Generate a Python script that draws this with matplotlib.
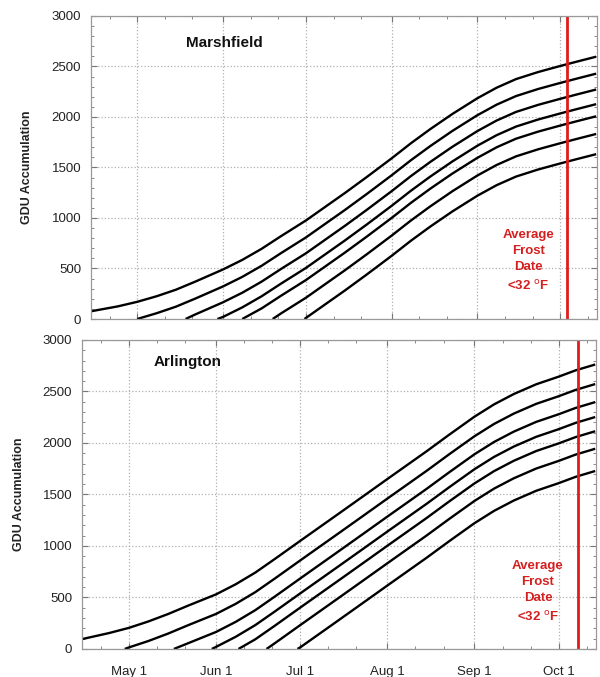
import numpy as np
import matplotlib.pyplot as plt
from matplotlib.ticker import MultipleLocator, FixedLocator

plt.rcParams['font.family'] = ['Liberation Sans', 'DejaVu Sans']

# jours de l'annee (day-of-year) ou les courbes ont ete lues
days = [104, 114, 121, 128, 135, 142, 152, 159, 166, 173, 182, 189, 196,
        204, 213, 220, 227, 235, 244, 251, 258, 266, 274, 280, 287]

month_days = [121, 152, 182, 213, 244, 274]
month_labels = ["May 1", "Jun 1", "Jul 1", "Aug 1", "Sep 1", "Oct 1"]
minor_days = [111, 131, 141, 162, 172, 192, 202, 223, 233, 254, 264, 284]

# Marshfield : date de depart (GDU = 0) puis valeurs sur la fin de `days`
marsh_start = [None, 121, 138.5, 150, 159, 170, 181.5]
marsh_gdu = [
    [75, 125, 170, 225, 290, 370, 490, 585, 695, 820, 975, 1110, 1245, 1405,
     1590, 1740, 1880, 2030, 2185, 2290, 2375, 2445, 2505, 2548, 2597],
    [57, 122, 202, 322, 417, 527, 652, 807, 942, 1077, 1237, 1422, 1572, 1712,
     1862, 2017, 2122, 2207, 2277, 2337, 2380, 2429],
    [45, 165, 260, 370, 495, 650, 785, 920, 1080, 1265, 1415, 1555, 1705, 1860,
     1965, 2050, 2120, 2180, 2223, 2272],
    [20, 115, 225, 350, 505, 640, 775, 935, 1120, 1270, 1410, 1560, 1715, 1820,
     1905, 1975, 2035, 2078, 2127],
    [105, 230, 385, 520, 655, 815, 1000, 1150, 1290, 1440, 1595, 1700, 1785,
     1855, 1915, 1958, 2007],
    [55, 210, 345, 480, 640, 825, 975, 1115, 1265, 1420, 1525, 1610, 1680, 1740,
     1783, 1832],
    [10, 145, 280, 440, 625, 775, 915, 1065, 1220, 1325, 1410, 1480, 1540, 1583,
     1632],
]
marsh_frost = 276.5

# Arlington
arl_start = [None, 119.5, 137, 150.5, 160, 170, 181]
arl_gdu = [
    [94, 155, 205, 268, 340, 420, 530, 628, 742, 875, 1050, 1185, 1320, 1475,
     1650, 1785, 1920, 2080, 2255, 2375, 2475, 2570, 2644, 2705, 2762],
    [15, 78, 150, 230, 340, 438, 552, 685, 860, 995, 1130, 1285, 1460, 1595,
     1730, 1890, 2065, 2185, 2285, 2380, 2454, 2515, 2572],
    [55, 165, 263, 377, 510, 685, 820, 955, 1110, 1285, 1420, 1555, 1715, 1890,
     2010, 2110, 2205, 2279, 2340, 2397],
    [20, 118, 232, 365, 540, 675, 810, 965, 1140, 1275, 1410, 1570, 1745, 1865,
     1965, 2060, 2134, 2195, 2252],
    [94, 227, 402, 537, 672, 827, 1002, 1137, 1272, 1432, 1607, 1727, 1827, 1922,
     1996, 2057, 2114],
    [57, 232, 367, 502, 657, 832, 967, 1102, 1262, 1437, 1557, 1657, 1752, 1826,
     1887, 1944],
    [16, 151, 286, 441, 616, 751, 886, 1046, 1221, 1341, 1441, 1536, 1610, 1671,
     1728],
]
arl_frost = 281

frost_text = "Average\nFrost\nDate\n<32 $^{\\rm o}$F"


def draw_panel(ax, starts, gdu, frost, name, name_pos, frost_pos, show_x):
    for start, vals in zip(starts, gdu):
        x = days[-len(vals):]
        y = list(vals)
        if start is not None:
            x = [start] + x
            y = [0] + y
        ax.plot(x, y, color="black", lw=1.7, solid_capstyle="butt",
                solid_joinstyle="round")

    ax.axvline(frost, color="#e01c1c", lw=2.0)

    ax.set_xlim(104.3, 287.3)
    ax.set_ylim(0, 3000)
    ax.xaxis.set_major_locator(FixedLocator(month_days))
    ax.xaxis.set_minor_locator(FixedLocator(minor_days))
    ax.yaxis.set_major_locator(MultipleLocator(500))
    ax.yaxis.set_minor_locator(MultipleLocator(100))
    if show_x:
        ax.set_xticklabels(month_labels)
    else:
        ax.set_xticklabels([])

    ax.grid(True, which="major", color="#b0b0b0", ls=":", lw=0.9)
    ax.tick_params(which="both", direction="in", top=True, right=True,
                   colors="#777777", labelcolor="#222222", labelsize=9.5)
    ax.tick_params(which="major", length=4)
    ax.tick_params(which="minor", length=2)
    ax.tick_params(axis="y", which="major", pad=7)
    ax.tick_params(axis="x", which="major", pad=12)
    for sp in ax.spines.values():
        sp.set_color("#999999")
        sp.set_linewidth(0.9)

    ax.set_ylabel("GDU Accumulation", fontsize=9, fontweight="bold",
                  color="#222222")
    ax.text(name_pos[0], name_pos[1], name, transform=ax.transAxes,
            ha="center", va="center", fontsize=11, fontweight="bold",
            color="#111111")
    ax.text(frost_pos[0], frost_pos[1], frost_text, transform=ax.transAxes,
            ha="center", va="center", fontsize=9.5, fontweight="bold",
            color="#d42020", linespacing=1.47)


fig = plt.figure(figsize=(6.0, 6.77), dpi=100)
ax1 = fig.add_axes([0.1517, 0.5288, 0.8433, 0.4476])
ax2 = fig.add_axes([0.1367, 0.0414, 0.8567, 0.4564])

draw_panel(ax1, marsh_start, marsh_gdu, marsh_frost, "Marshfield",
           (0.263, 0.911), (0.864, 0.192), False)
draw_panel(ax2, arl_start, arl_gdu, arl_frost, "Arlington",
           (0.206, 0.929), (0.887, 0.185), True)

ax1.yaxis.set_label_coords(-0.115, 0.5)
ax2.yaxis.set_label_coords(-0.111, 0.5)

fig.savefig("out.png", dpi=100)
